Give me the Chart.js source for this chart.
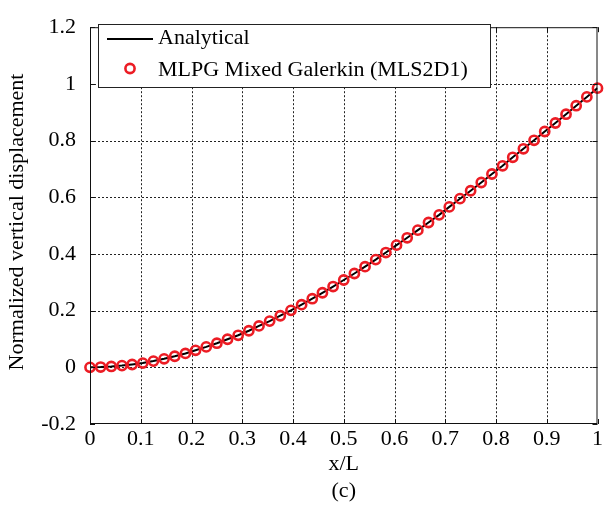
<!DOCTYPE html>
<html>
<head>
<meta charset="utf-8">
<script src="https://cdn.jsdelivr.net/npm/chart.js@4"></script>
<style>
  body { margin: 0; background: #fff; }
</style>
</head>
<body>
<canvas id="chart" width="605" height="507"></canvas>
<script>
// x/L positions of the nodes (49 nodes along the beam)
const xPos = [0, 0.021, 0.042, 0.063, 0.083, 0.104, 0.125, 0.146, 0.167, 0.188,
    0.208, 0.229, 0.25, 0.271, 0.292, 0.313, 0.333, 0.354, 0.375, 0.396,
    0.417, 0.438, 0.458, 0.479, 0.5, 0.521, 0.542, 0.563, 0.583, 0.604,
    0.625, 0.646, 0.667, 0.688, 0.708, 0.729, 0.75, 0.771, 0.792, 0.813,
    0.833, 0.854, 0.875, 0.896, 0.917, 0.938, 0.958, 0.979, 1];

// normalized vertical displacement
const analytical = [0, 0.001, 0.003, 0.006, 0.010, 0.015, 0.022, 0.030, 0.039, 0.049,
    0.060, 0.072, 0.085, 0.099, 0.113, 0.129, 0.146, 0.163, 0.182, 0.201,
    0.221, 0.242, 0.263, 0.285, 0.308, 0.331, 0.355, 0.380, 0.405, 0.431,
    0.457, 0.484, 0.511, 0.538, 0.566, 0.595, 0.623, 0.652, 0.682, 0.711,
    0.741, 0.771, 0.801, 0.832, 0.862, 0.893, 0.923, 0.954, 0.985];
const mlpg = [0, 0.001, 0.003, 0.006, 0.010, 0.015, 0.022, 0.030, 0.039, 0.049,
    0.060, 0.072, 0.085, 0.099, 0.113, 0.129, 0.146, 0.163, 0.182, 0.201,
    0.221, 0.242, 0.263, 0.285, 0.308, 0.331, 0.355, 0.380, 0.405, 0.431,
    0.457, 0.484, 0.511, 0.538, 0.566, 0.595, 0.623, 0.652, 0.682, 0.711,
    0.741, 0.771, 0.801, 0.832, 0.862, 0.893, 0.923, 0.954, 0.985];

const xTickLabels = ['0', '0.1', '0.2', '0.3', '0.4', '0.5', '0.6', '0.7', '0.8', '0.9', '1'];
const yTickLabels = ['-0.2', '0', '0.2', '0.4', '0.6', '0.8', '1', '1.2'];

const FONT = '"Liberation Serif", "Times New Roman", serif';
const RED = '#ec1c24';

// grid, frame, legend and titles drawn in matlab style
const matlabFrame = {
    id: 'matlabFrame',
    beforeDatasetsDraw(chart) {
        const ctx = chart.ctx;
        const a = chart.chartArea;
        const xs = chart.scales.x, ys = chart.scales.y;
        ctx.save();
        ctx.strokeStyle = '#222';
        ctx.lineWidth = 1;
        ctx.setLineDash([2, 2]);
        xs.ticks.forEach(t => {
            const px = Math.round(xs.getPixelForValue(t.value)) + 0.5;
            if (px <= a.left + 1 || px >= a.right - 1) return;
            ctx.beginPath(); ctx.moveTo(px, a.top); ctx.lineTo(px, a.bottom); ctx.stroke();
        });
        ys.ticks.forEach(t => {
            const py = Math.round(ys.getPixelForValue(t.value)) + 0.5;
            if (py <= a.top + 1 || py >= a.bottom - 1) return;
            ctx.beginPath(); ctx.moveTo(a.left, py); ctx.lineTo(a.right, py); ctx.stroke();
        });
        ctx.restore();
    },
    afterDraw(chart) {
        const ctx = chart.ctx;
        const a = chart.chartArea;
        const xs = chart.scales.x, ys = chart.scales.y;
        ctx.save();
        // frame
        ctx.strokeStyle = '#111';
        ctx.lineWidth = 1;
        ctx.strokeRect(a.left + 0.5, a.top + 0.5, a.right - a.left - 1, a.bottom - a.top - 1);
        // inner ticks
        ctx.beginPath();
        xs.ticks.forEach(t => {
            const px = Math.round(xs.getPixelForValue(t.value)) + 0.5;
            ctx.moveTo(px, a.bottom); ctx.lineTo(px, a.bottom - 5);
            ctx.moveTo(px, a.top); ctx.lineTo(px, a.top + 5);
        });
        ys.ticks.forEach(t => {
            const py = Math.round(ys.getPixelForValue(t.value)) + 0.5;
            ctx.moveTo(a.left, py); ctx.lineTo(a.left + 5, py);
            ctx.moveTo(a.right, py); ctx.lineTo(a.right - 5, py);
        });
        ctx.stroke();

        // legend
        const lx = 98.5, ly = 24.5, lw = 392, lh = 63;
        ctx.fillStyle = '#fff';
        ctx.fillRect(lx, ly, lw, lh);
        ctx.strokeStyle = '#222';
        ctx.strokeRect(lx, ly, lw, lh);
        ctx.strokeStyle = '#000';
        ctx.lineWidth = 2;
        ctx.beginPath(); ctx.moveTo(107, 39); ctx.lineTo(153, 39); ctx.stroke();
        ctx.strokeStyle = RED;
        ctx.lineWidth = 2.6;
        ctx.beginPath(); ctx.arc(130, 68.5, 4.6, 0, Math.PI * 2); ctx.stroke();
        ctx.fillStyle = '#000';
        ctx.font = '22px ' + FONT;
        ctx.textBaseline = 'middle';
        ctx.textAlign = 'left';
        ctx.fillText(chart.data.datasets[0].label, 158, 38);
        ctx.fillText(chart.data.datasets[1].label, 158, 70);

        // axis titles
        ctx.textAlign = 'center';
        ctx.fillText('x/L', (a.left + a.right) / 2, 464);
        ctx.fillText('(c)', (a.left + a.right) / 2, 491);
        ctx.translate(17, 222);
        ctx.rotate(-Math.PI / 2);
        ctx.font = '22px ' + FONT;
        ctx.fillText('Normalized vertical displacement', 0, 0);
        ctx.restore();
    }
};

document.addEventListener('DOMContentLoaded', function() {
    const ctx = document.getElementById('chart').getContext('2d');
    new Chart(ctx, {
        type: 'scatter',
        data: {
            datasets: [{
                label: 'Analytical',
                data: xPos.map((x, i) => ({ x: x, y: analytical[i] })),
                showLine: true,
                borderColor: '#000',
                borderWidth: 2,
                pointRadius: 0,
                order: 1
            }, {
                label: 'MLPG Mixed Galerkin (MLS2D1)',
                data: xPos.map((x, i) => ({ x: x, y: mlpg[i] })),
                showLine: false,
                pointStyle: 'circle',
                pointRadius: 4.6,
                pointBorderWidth: 2.6,
                borderColor: RED,
                backgroundColor: 'rgba(0,0,0,0)',
                clip: false,
                order: 0
            }]
        },
        options: {
            responsive: false,
            animation: false,
            layout: { padding: { top: 20, right: 4, left: 0, bottom: 0 } },
            plugins: {
                legend: { display: false },
                tooltip: { enabled: false }
            },
            scales: {
                x: {
                    type: 'linear',
                    min: 0,
                    max: 1,
                    grid: { display: false, drawTicks: false },
                    border: { display: false },
                    ticks: {
                        stepSize: 0.1,
                        padding: 2,
                        color: '#000',
                        font: { family: FONT, size: 22 },
                        maxRotation: 0,
                        callback: (v, i) => xTickLabels[i]
                    },
                    afterFit: s => { s.height = 83; }
                },
                y: {
                    min: -0.2,
                    max: 1.2,
                    grid: { display: false, drawTicks: false },
                    border: { display: false },
                    ticks: {
                        stepSize: 0.2,
                        padding: 14,
                        color: '#000',
                        font: { family: FONT, size: 22 },
                        callback: (v, i) => yTickLabels[i]
                    },
                    afterFit: s => { s.width = 90; }
                }
            }
        },
        plugins: [matlabFrame]
    });
});
</script>
</body>
</html>
